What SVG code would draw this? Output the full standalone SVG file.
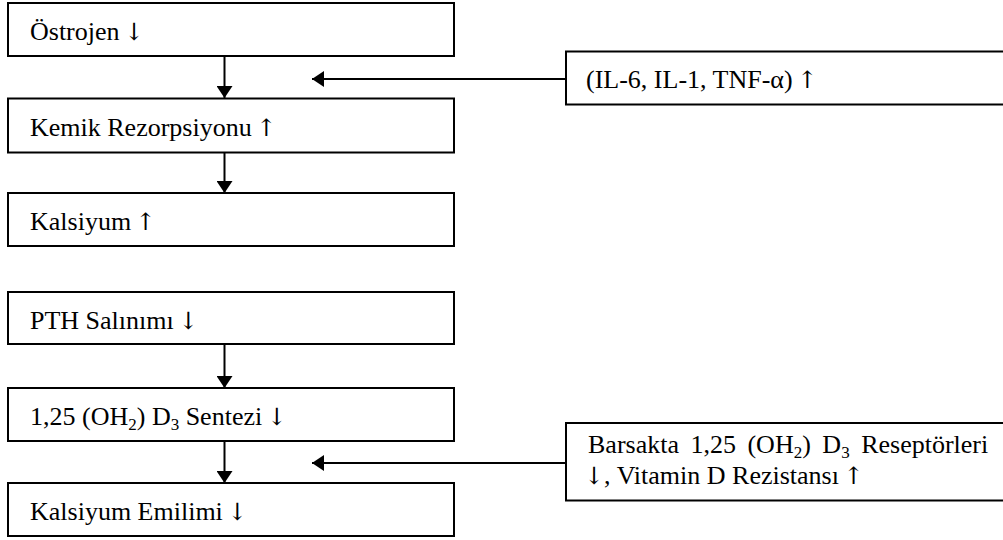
<svg xmlns="http://www.w3.org/2000/svg" width="1003" height="540" viewBox="0 0 1003 540">
  <style>
    .box { fill: #ffffff; stroke: #000000; stroke-width: 2; }
    .lbl { font-family: "Liberation Serif", "Times New Roman", serif; font-size: 26px; fill: #000000; }
    .sub { font-size: 17px; }
    .arr { font-family: "DejaVu Serif", "DejaVu Sans", serif; font-size: 24px; }
    .conn { stroke: #000000; stroke-width: 2; fill: none; marker-end: url(#ah); }
  </style>
  <defs>
    <marker id="ah" viewBox="0 0 12 16" markerWidth="12" markerHeight="16" refX="12" refY="8" orient="auto" markerUnits="userSpaceOnUse">
      <path d="M0,0 L12,8 L0,16 z" fill="#000000"/>
    </marker>
  </defs>
  <rect width="1003" height="540" fill="#ffffff"/>

  <g id="connectors">
    <line class="conn" x1="224.5" y1="56" x2="224.5" y2="98"/>
    <line class="conn" x1="224.5" y1="153" x2="224.5" y2="193"/>
    <line class="conn" x1="224.5" y1="344" x2="224.5" y2="388"/>
    <line class="conn" x1="224.5" y1="441" x2="224.5" y2="483"/>
    <line class="conn" x1="566" y1="79" x2="312" y2="79"/>
    <line class="conn" x1="566" y1="463" x2="312" y2="463"/>
  </g>

  <g id="ostrojen">
    <rect class="box" x="8" y="3" width="446" height="53"/>
    <text class="lbl" x="30" y="40">Östrojen <tspan class="arr" dx="-2">↓</tspan></text>
  </g>
  <g id="kemik-rezorpsiyonu">
    <rect class="box" x="8" y="98.5" width="446" height="54"/>
    <text class="lbl" x="30" y="135.5">Kemik Rezorpsiyonu <tspan class="arr" dx="-2">↑</tspan></text>
  </g>
  <g id="kalsiyum">
    <rect class="box" x="8" y="193" width="446" height="53"/>
    <text class="lbl" x="30" y="230">Kalsiyum <tspan class="arr" dx="-2">↑</tspan></text>
  </g>
  <g id="sitokinler">
    <rect class="box" x="566" y="51.5" width="445" height="53"/>
    <text class="lbl" x="586" y="88">(IL-6, IL-1, TNF-α) <tspan class="arr" dx="-2">↑</tspan></text>
  </g>
  <g id="pth-salinimi">
    <rect class="box" x="8" y="292" width="446" height="52"/>
    <text class="lbl" x="30" y="329">PTH Salınımı <tspan class="arr" dx="-2">↓</tspan></text>
  </g>
  <g id="d3-sentezi">
    <rect class="box" x="8" y="388" width="446" height="53"/>
    <text class="lbl" x="30" y="425">1,25 (OH<tspan class="sub" dy="5">2</tspan><tspan dy="-5">) D</tspan><tspan class="sub" dy="5">3</tspan><tspan dy="-5"> Sentezi </tspan><tspan class="arr" dx="-2">↓</tspan></text>
  </g>
  <g id="kalsiyum-emilimi">
    <rect class="box" x="8" y="483" width="446" height="53"/>
    <text class="lbl" x="30" y="520">Kalsiyum Emilimi <tspan class="arr" dx="-2">↓</tspan></text>
  </g>
  <g id="vitamin-d-rezistansi">
    <rect class="box" x="566" y="423" width="445" height="77.5"/>
    <text class="lbl" x="588" y="453" word-spacing="5">Barsakta 1,25 (OH<tspan class="sub" dy="5">2</tspan><tspan dy="-5">) D</tspan><tspan class="sub" dy="5">3</tspan><tspan dy="-5"> Reseptörleri</tspan></text>
    <text class="lbl" x="584" y="484"><tspan class="arr">↓</tspan>, Vitamin D Rezistansı <tspan class="arr" dx="-2">↑</tspan></text>
  </g>
</svg>
